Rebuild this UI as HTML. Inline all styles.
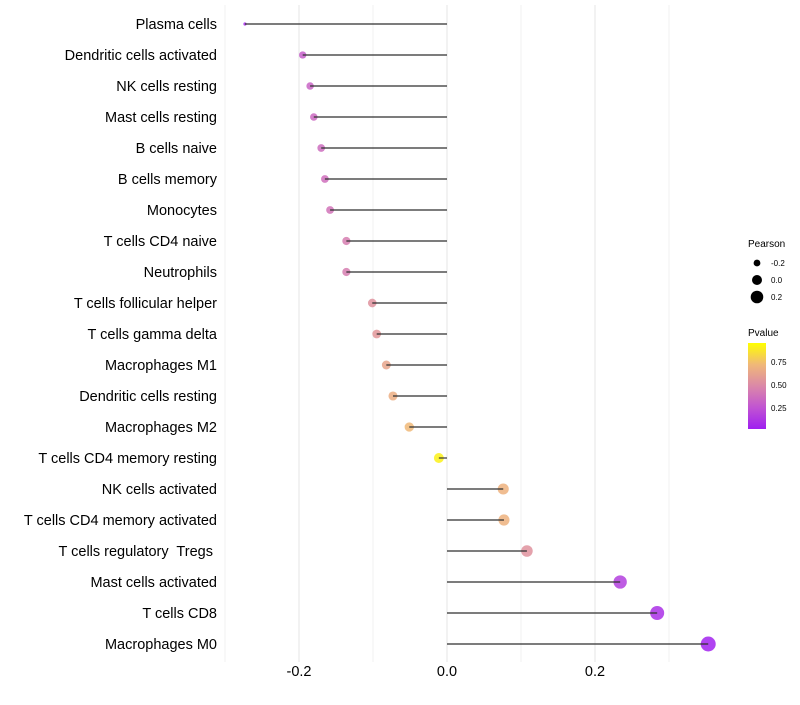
<!DOCTYPE html>
<html><head><meta charset="utf-8"><style>
body{margin:0;background:#fff;font-family:"Liberation Sans",sans-serif}
svg text{font-family:"Liberation Sans",sans-serif;white-space:pre}
</style></head><body>
<svg id="chart" width="800" height="700">
<defs><linearGradient id="pg" x1="0" y1="1" x2="0" y2="0">
<stop offset="0" stop-color="#9F1FF0"/><stop offset="0.25" stop-color="#C154D2"/><stop offset="0.5" stop-color="#DB88A8"/><stop offset="0.75" stop-color="#F0B878"/><stop offset="1" stop-color="#FFFF00"/></linearGradient></defs>
<g id="grid"></g>
<g id="marks"></g>
<g id="labels"></g>
<g id="xt"></g>
<g>
<text x="748" y="247" font-size="10">Pearson</text>
<circle cx="757" cy="263" r="3.4" fill="#000"/>
<text x="771" y="266" font-size="8">-0.2</text>
<circle cx="757" cy="280" r="5" fill="#000"/>
<text x="771" y="283" font-size="8">0.0</text>
<circle cx="757" cy="297" r="6.3" fill="#000"/>
<text x="771" y="300" font-size="8">0.2</text>
</g>
<g>
<text x="748" y="336" font-size="10">Pvalue</text>
<rect x="748" y="343" width="18" height="86" fill="url(#pg)"/>
<text x="771" y="365" font-size="8">0.75</text>
<text x="771" y="388" font-size="8">0.50</text>
<text x="771" y="411" font-size="8">0.25</text>
</g>
</svg>
<script>
const categories=["Plasma cells","Dendritic cells activated","NK cells resting","Mast cells resting","B cells naive","B cells memory","Monocytes","T cells CD4 naive","Neutrophils","T cells follicular helper","T cells gamma delta","Macrophages M1","Dendritic cells resting","Macrophages M2","T cells CD4 memory resting","NK cells activated","T cells CD4 memory activated","T cells regulatory  Tregs ","Mast cells activated","T cells CD8","Macrophages M0"];
const pearson=[-0.273,-0.195,-0.185,-0.18,-0.17,-0.165,-0.158,-0.136,-0.136,-0.101,-0.095,-0.082,-0.073,-0.051,-0.011,0.076,0.077,0.108,0.234,0.284,0.353];
const pvalue=[0.05,0.3,0.33,0.35,0.37,0.38,0.4,0.45,0.45,0.55,0.58,0.65,0.7,0.75,0.95,0.72,0.72,0.55,0.15,0.08,0.02];
const xTicks=[-0.2,0,0.2];
const xMinor=[-0.3,-0.1,0.1,0.3];
const NS="http://www.w3.org/2000/svg";
const x=v=>447+v*740;
const y=i=>24+i*31;
const stops=[[0,[159,31,240]],[0.25,[193,84,210]],[0.5,[219,136,168]],[0.75,[240,184,120]],[1,[255,255,0]]];
function col(t){for(let k=1;k<stops.length;k++){if(t<=stops[k][0]){const a=stops[k-1],b=stops[k],f=(t-a[0])/(b[0]-a[0]);return "rgb("+a[1].map((c,j)=>Math.round(c+(b[1][j]-c)*f)).join(",")+")";}}return "rgb(255,255,0)";}
function rad(v){return v<-0.25?1.6:3.7+7*(v+0.19);}
function mk(tag,attrs,parent){const e=document.createElementNS(NS,tag);for(const k in attrs)e.setAttribute(k,attrs[k]);document.getElementById(parent).appendChild(e);return e;}
xMinor.forEach(v=>{const l=mk("line",{x1:x(v),x2:x(v),y1:5,y2:662,stroke:"#f0f0f0","stroke-width":1},"grid");

});
xTicks.forEach(v=>{const l=mk("line",{x1:x(v),x2:x(v),y1:5,y2:662,stroke:"#e6e6e6","stroke-width":1},"grid");


const t=mk("text",{x:x(v),y:676,"font-size":14.5,"text-anchor":"middle",fill:"#000"},"xt");
t.textContent=v.toFixed(1);

});
categories.forEach((c,i)=>{
const p=mk("circle",{cx:x(pearson[i]),cy:y(i),r:rad(pearson[i]),fill:col(pvalue[i]),"fill-opacity":0.85},"marks");


const l=mk("line",{x1:x(0),x2:x(pearson[i]),y1:y(i),y2:y(i),stroke:"#333","stroke-width":1.4,"stroke-opacity":0.85},"marks");


const t=mk("text",{x:217,y:y(i)+5,"font-size":14.5,"text-anchor":"end",fill:"#000"},"labels");
t.textContent=c;


});
</script>
</body></html>
